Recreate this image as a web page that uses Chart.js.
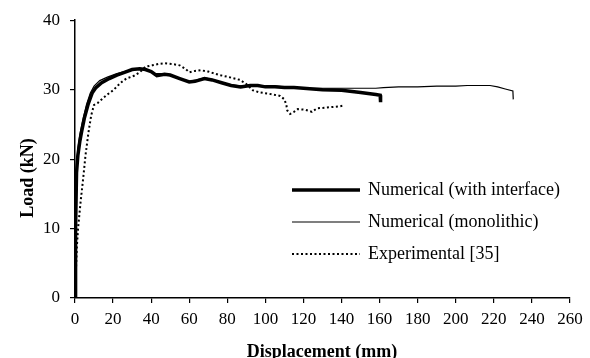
<!DOCTYPE html>
<html>
<head>
<meta charset="utf-8">
<script src="https://cdn.jsdelivr.net/npm/chart.js@4/dist/chart.umd.min.js"></script>
<style>
  html, body { margin: 0; padding: 0; background: #fff; }
  #wrap { width: 590px; height: 358px; position: relative; }
</style>
</head>
<body>
<div id="wrap"><canvas id="c" width="590" height="358"></canvas></div>
<script>
// ---- Data ----
const seriesNames = ['Numerical (with interface)', 'Numerical (monolithic)', 'Experimental [35]'];

const interfaceX = [0, 0.3, 0.8, 1.5, 2.5, 3.5, 5, 7, 9, 11, 14, 18, 22, 26, 30, 34, 37, 40, 43, 47, 50, 55, 60, 63, 68, 72, 77, 82, 87, 92, 96, 100, 105, 110, 115, 120, 130, 140, 150, 158, 160.3, 160.5];
const interfaceY = [0, 10, 18, 20.5, 22.5, 24, 26, 28, 29.5, 30.3, 31, 31.6, 32.1, 32.5, 32.9, 33.0, 32.9, 32.6, 32.0, 32.2, 32.1, 31.6, 31.1, 31.2, 31.6, 31.4, 31.0, 30.6, 30.4, 30.6, 30.6, 30.4, 30.4, 30.3, 30.3, 30.2, 30.0, 29.9, 29.6, 29.3, 29.2, 28.2];

const monolithicX = [0, 0.3, 0.8, 1.5, 2.5, 4, 6, 8, 10, 13, 17, 22, 26, 30, 34, 38, 42, 46, 50, 55, 60, 64, 68, 72, 77, 82, 88, 92, 96, 100, 105, 110, 115, 120, 130, 140, 150, 158, 162, 170, 180, 190, 200, 206, 212, 218, 222, 226, 230, 230.2];
const monolithicY = [0, 12, 19, 21.5, 23.5, 25.5, 27.8, 29.5, 30.5, 31.3, 31.8, 32.3, 32.6, 32.9, 33.0, 32.8, 32.3, 32.3, 32.0, 31.6, 31.2, 31.4, 31.7, 31.5, 31.0, 30.7, 30.5, 30.7, 30.6, 30.5, 30.5, 30.4, 30.3, 30.2, 30.2, 30.2, 30.2, 30.2, 30.3, 30.4, 30.4, 30.5, 30.5, 30.6, 30.6, 30.6, 30.4, 30.1, 29.8, 28.6];

const experimentalX = [0, 0.5, 1, 1.7, 3, 4.4, 5.5, 7, 8.5, 10, 12, 14.8, 17, 20, 24, 27, 31, 34, 37, 40.6, 44, 47, 51, 55, 58, 60, 63, 66, 70, 76, 81, 86.7, 90, 93.5, 97, 102, 107.7, 110, 111, 111.5, 113, 115, 117, 121, 124.5, 127, 131, 135, 139, 141];
const experimentalY = [0, 4, 7.5, 10.3, 14, 17.5, 20.5, 23.7, 26.3, 27.8, 28.1, 28.8, 29.3, 29.9, 31.0, 31.6, 32.0, 32.5, 33.3, 33.5, 33.7, 33.8, 33.7, 33.5, 33.0, 32.5, 32.7, 32.8, 32.6, 32.1, 31.8, 31.4, 30.8, 29.9, 29.6, 29.4, 29.1, 28.6, 27.8, 27.0, 26.5, 26.8, 27.2, 27.1, 26.8, 27.3, 27.4, 27.5, 27.6, 27.7];

const xTicks = [0, 20, 40, 60, 80, 100, 120, 140, 160, 180, 200, 220, 240, 260];
const yTicks = [0, 10, 20, 30, 40];
const xTitle = 'Displacement (mm)';
const yTitle = 'Load (kN)';

// ---- Build ----
const toPts = (xs, ys) => xs.map((x, i) => ({ x: x, y: ys[i] }));
const FONT = '"Liberation Serif", "Times New Roman", serif';

const legendAndTitles = {
  id: 'legendAndTitles',
  afterDraw(chart) {
    const ctx = chart.ctx;
    ctx.save();
    // legend
    const x0 = 292, x1 = 360, tx = 368, y0 = 190, dy = 32;
    chart.data.datasets.forEach((ds, i) => {
      const y = y0 + dy * i;
      ctx.beginPath();
      ctx.strokeStyle = ds.borderColor;
      ctx.lineWidth = ds.borderWidth;
      ctx.setLineDash(ds.borderDash || []);
      ctx.lineCap = 'butt';
      ctx.moveTo(x0, y);
      ctx.lineTo(x1, y);
      ctx.stroke();
      ctx.setLineDash([]);
      ctx.fillStyle = '#000';
      ctx.font = '18px ' + FONT;
      ctx.textBaseline = 'middle';
      ctx.textAlign = 'left';
      ctx.fillText(ds.label, tx, y);
    });
    // axis titles
    ctx.font = 'bold 18px ' + FONT;
    ctx.fillStyle = '#000';
    ctx.textAlign = 'center';
    ctx.textBaseline = 'alphabetic';
    ctx.fillText(xTitle, 322, 357);
    ctx.translate(33, 178);
    ctx.rotate(-Math.PI / 2);
    ctx.fillText(yTitle, 0, 0);
    ctx.restore();
  }
};

new Chart(document.getElementById('c'), {
  type: 'line',
  data: {
    datasets: [
      { label: seriesNames[0], data: toPts(interfaceX, interfaceY), borderColor: '#000', borderWidth: 3.5, pointRadius: 0, tension: 0, fill: false },
      { label: seriesNames[1], data: toPts(monolithicX, monolithicY), borderColor: '#000', borderWidth: 1.2, pointRadius: 0, tension: 0, fill: false },
      { label: seriesNames[2], data: toPts(experimentalX, experimentalY), borderColor: '#000', borderWidth: 2, borderDash: [2, 2.5], pointRadius: 0, tension: 0, fill: false }
    ]
  },
  options: {
    responsive: false,
    animation: false,
    layout: { padding: { top: 20, right: 20, left: 0, bottom: 0 } },
    plugins: { legend: { display: false }, tooltip: { enabled: false } },
    scales: {
      x: {
        type: 'linear',
        min: 0, max: 260,
        afterBuildTicks: (s) => { s.ticks = xTicks.map(v => ({ value: v })); },
        afterFit: (s) => { s.height = 60; },
        grid: { drawOnChartArea: false, drawTicks: true, tickLength: 5, color: '#000', lineWidth: 1.2 },
        border: { color: '#000', width: 1.5 },
        ticks: { color: '#000', font: { family: FONT, size: 17 }, padding: 6, maxRotation: 0, autoSkip: false }
      },
      y: {
        type: 'linear',
        min: 0, max: 40,
        afterBuildTicks: (s) => { s.ticks = yTicks.map(v => ({ value: v })); },
        afterFit: (s) => { s.width = 75; },
        grid: { drawOnChartArea: false, drawTicks: true, tickLength: 5, color: '#000', lineWidth: 1.2 },
        border: { color: '#000', width: 1.5 },
        ticks: { color: '#000', font: { family: FONT, size: 17 }, padding: 10 }
      }
    }
  },
  plugins: [legendAndTitles]
});
</script>
</body>
</html>
